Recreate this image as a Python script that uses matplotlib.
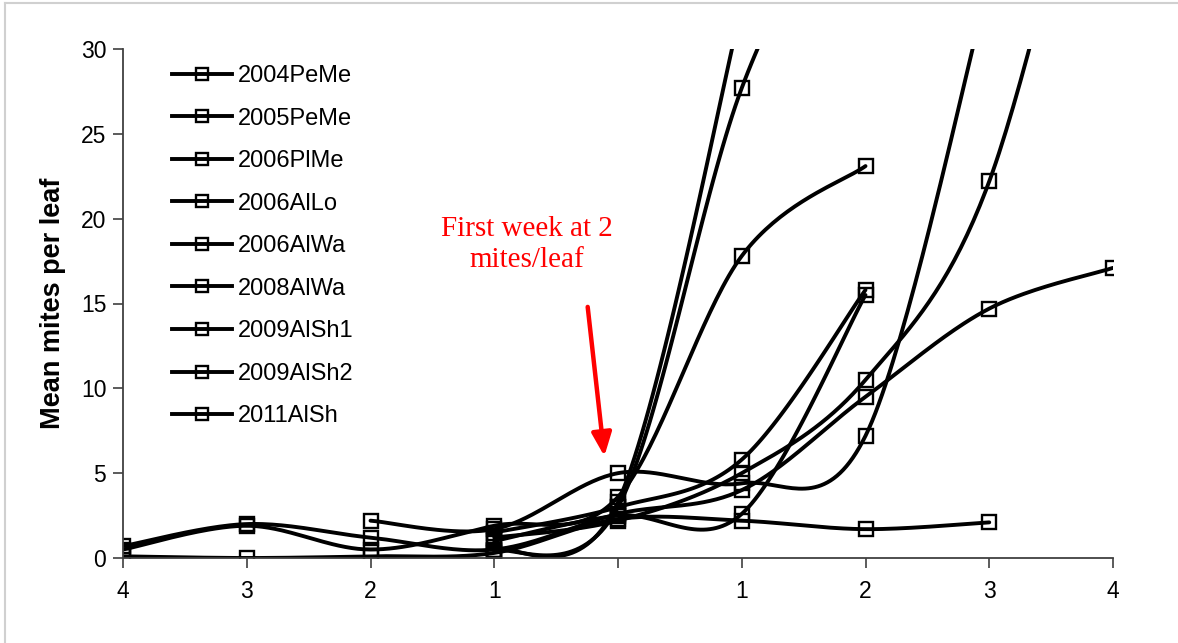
import numpy as np
import matplotlib
matplotlib.use("Agg")
import matplotlib.pyplot as plt
from matplotlib.lines import Line2D

nan = np.nan
# Weeks relative to first week at 2 mites/leaf
weeks = [-4, -3, -2, -1, 0, 1, 2, 3, 4]
tick_labels = ["4", "3", "2", "1", "", "1", "2", "3", "4"]

s_2004PeMe = [0.1, 0.0, 0.1, 0.3, 2.3, 2.2, 1.7, 2.1, nan]
s_2005PeMe = [0.7, 2.0, 1.2, 0.5, 2.6, 4.0, 9.5, 14.7, 17.1]
s_2006PlMe = [0.5, 1.9, 0.5, 1.9, 3.6, 17.8, 23.1, nan, nan]
s_2006AlLo = [nan, nan, nan, 0.4, 3.0, 27.7, 42.0, nan, nan]
s_2006AlWa = [nan, nan, nan, 0.5, 3.3, 32.5, nan, nan, nan]
s_2008AlWa = [nan, nan, nan, 1.2, 2.2, 5.0, 10.5, 22.2, 50.0]
s_2009AlSh1 = [nan, nan, 2.2, 1.7, 5.0, 4.4, 7.2, 34.0, nan]
s_2009AlSh2 = [nan, nan, nan, 1.5, 3.0, 5.8, 15.8, nan, nan]
s_2011AlSh = [nan, nan, nan, 1.0, 2.5, 2.6, 15.5, nan, nan]

names = ["2004PeMe", "2005PeMe", "2006PlMe", "2006AlLo", "2006AlWa",
         "2008AlWa", "2009AlSh1", "2009AlSh2", "2011AlSh"]
series = [s_2004PeMe, s_2005PeMe, s_2006PlMe, s_2006AlLo, s_2006AlWa,
          s_2008AlWa, s_2009AlSh1, s_2009AlSh2, s_2011AlSh]


def smooth(x, y, n=40):
    """Excel-like smoothed line (Catmull-Rom Bezier) through the points."""
    x = np.asarray(x, float)
    y = np.asarray(y, float)
    px = np.concatenate([[x[0]], x, [x[-1]]])
    py = np.concatenate([[y[0]], y, [y[-1]]])
    xs, ys = [], []
    t = np.linspace(0, 1, n)
    for i in range(1, len(px) - 2):
        p0 = np.array([px[i], py[i]])
        p3 = np.array([px[i + 1], py[i + 1]])
        c1 = p0 + (p3 - np.array([px[i - 1], py[i - 1]])) / 6.0
        c2 = p3 - (np.array([px[i + 2], py[i + 2]]) - p0) / 6.0
        b = ((1 - t) ** 3)[:, None] * p0 + (3 * (1 - t) ** 2 * t)[:, None] * c1 \
            + (3 * (1 - t) * t ** 2)[:, None] * c2 + (t ** 3)[:, None] * p3
        xs.append(b[:, 0])
        ys.append(b[:, 1])
    return np.concatenate(xs), np.concatenate(ys)


plt.rcParams['font.family'] = ['Liberation Sans', 'DejaVu Sans']

fig = plt.figure(figsize=(11.78, 6.43), dpi=100)
ax = fig.add_axes([123 / 1178, 1 - 558 / 643, (1113 - 123) / 1178, (558 - 49) / 643])

LW = 2.8
for name, vals in zip(names, series):
    w = np.array(weeks, float)
    v = np.array(vals, float)
    m = ~np.isnan(v)
    sx, sy = smooth(w[m], v[m])
    ax.plot(sx, sy, color='black', lw=LW, solid_capstyle='round')
    ax.plot(w[m], v[m], ls='none', marker='s', ms=9.5, mfc='none',
            mec='black', mew=1.7)

handles = [Line2D([0], [0], color='black', lw=LW, marker='s', ms=8.5,
                  mfc='none', mec='black', mew=1.7) for _ in names]
leg = ax.legend(handles, names, loc='upper left', frameon=False,
                bbox_to_anchor=((172 - 123) / 990, (558 - 65) / 509),
                fontsize=17, handlelength=2.55, handletextpad=0.25,
                labelspacing=0.87, borderaxespad=0.0, borderpad=0.0)

ax.set_xlim(-4, 4)
ax.set_ylim(0, 30)
ax.set_xticks(weeks)
ax.set_xticklabels(tick_labels)
ax.set_yticks([0, 5, 10, 15, 20, 25, 30])
ax.tick_params(axis='both', labelsize=16.5, length=7, width=1.2, color='#404040',
               direction='out')
ax.tick_params(axis='x', pad=9)
ax.tick_params(axis='y', pad=5)
for s in ['top', 'right']:
    ax.spines[s].set_visible(False)
for s in ['left', 'bottom']:
    ax.spines[s].set_color('#404040')
    ax.spines[s].set_linewidth(1.3)

ax.set_ylabel("Mean mites per leaf", fontsize=19.5, fontweight='bold', labelpad=11)

ax.text((527 - 123) / 990, (558 - 245) / 509, "First week at 2\nmites/leaf",
        transform=ax.transAxes, ha='center', va='center', color='red',
        fontsize=21, family=['Liberation Serif', 'DejaVu Serif'], linespacing=1.25)
ax.annotate("", xy=(-0.11, 6.0), xytext=(-0.245, 14.8),
            arrowprops=dict(arrowstyle='-|>,head_length=1.4,head_width=0.6',
                            color='red', lw=3.2, shrinkA=0, shrinkB=0))

# light chart-area border
fig.add_artist(Line2D([5 / 1178, 1], [1 - 3 / 643, 1 - 3 / 643],
                      transform=fig.transFigure, color='#d0d0d0', lw=1.5))
fig.add_artist(Line2D([5 / 1178, 5 / 1178], [0, 1 - 3 / 643],
                      transform=fig.transFigure, color='#d0d0d0', lw=1.5))

fig.savefig("out.png", dpi=100)
